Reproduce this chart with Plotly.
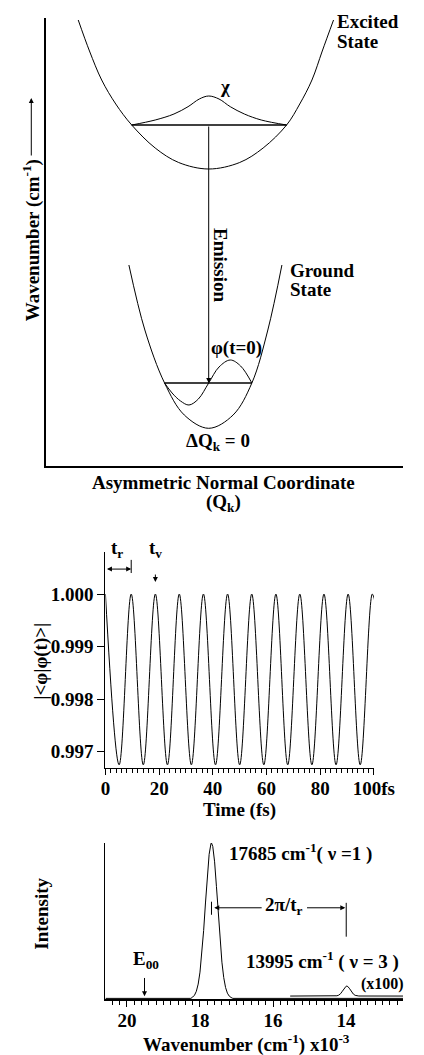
import plotly.graph_objects as go

W, H = 424, 1055

# ---------------- Top panel (schematic potential wells) ----------------
# Q: asymmetric normal coordinate (arb.), E: wavenumber (arb.)
excited_Q = [-139, -127, -114, -99, -82, -57, -32, 0, 33, 58, 83, 97, 110, 121, 133]
excited_E = [446, 415, 386, 362, 341, 318, 303.5, 297, 303.5, 318, 341, 362, 386, 415, 446]
excited_level_Q = [-82, 83]
excited_level_E = [341, 341]
chi_Q = [-82, -57, -37, -22, -10, 0, 11, 23, 38, 56, 83]
chi_E = [341, 346, 352, 359.3, 367, 370, 367, 359.3, 352, 346, 341]

ground_Q = [-85, -68, -47, -26, 0, 26, 46, 63, 78]
ground_E = [201, 136, 83, 51, 37.7, 51, 83, 136, 201]
ground_level_Q = [-47, 46]
ground_level_E = [83, 83]
phi_Q = [-47, -39, -30, -21, -11, 0, 11, 23, 34, 46]
phi_E = [83, 73, 65, 61, 67, 83, 99, 106, 100, 83]

# ---------------- Middle panel (autocorrelation) ----------------
time_fs = [0, 5.1, 9.6, 14.1, 18.6, 23.1, 27.5, 32.0, 36.5, 41.0, 45.5, 50.0,
           54.5, 59.0, 63.5, 67.9, 72.4, 76.9, 81.4, 85.9, 90.4, 94.9, 99.4, 100.4]
overlap = [1.0000, 0.99675, 1.0000, 0.99675, 1.0000, 0.99675, 1.0000, 0.99675,
           1.0000, 0.99675, 1.0000, 0.99675, 1.0000, 0.99675, 1.0000, 0.99675,
           1.0000, 0.99675, 1.0000, 0.99675, 1.0000, 0.99675, 1.0000, 0.99985]

# ---------------- Bottom panel (emission spectrum) ----------------
spec_wn = [20.59, 18.25, 18.20, 18.15, 18.10, 18.05, 18.00, 17.95, 17.90, 17.85,
           17.80, 17.75, 17.70, 17.685, 17.65, 17.60, 17.55, 17.50, 17.45, 17.40,
           17.35, 17.30, 17.25, 17.20, 17.15, 17.10, 12.44]
spec_int = [0, 0, 0.0086, 0.0208, 0.0457, 0.0919, 0.169, 0.284, 0.437, 0.614,
            0.789, 0.927, 0.996, 1.0, 0.978, 0.879, 0.721, 0.542, 0.372, 0.233,
            0.134, 0.0702, 0.0337, 0.0148, 0.0059, 0, 0]
x100_wn = [15.53, 14.35, 14.30, 14.25, 14.20, 14.15, 14.10, 14.05, 14.00, 13.98,
           13.95, 13.90, 13.85, 13.80, 13.75, 13.70, 13.65, 12.44]
x100_int = [0.015, 0.015, 0.0154, 0.0167, 0.0207, 0.0301, 0.0462, 0.0651, 0.0777, 0.079,
            0.0762, 0.0615, 0.0425, 0.0277, 0.0195, 0.0163, 0.0153, 0.015]

FONT = "Liberation Serif, Times New Roman, Times, DejaVu Serif, serif"
BLACK = "black"
FS = 19


def px(x):
    return x / W


def py(y):
    return 1 - y / H


fig = go.Figure()
line = dict(color=BLACK, width=1)

# top panel traces
fig.add_trace(go.Scatter(x=excited_Q, y=excited_E, mode="lines", line=dict(line, shape="spline"), xaxis="x", yaxis="y"))
fig.add_trace(go.Scatter(x=excited_level_Q, y=excited_level_E, mode="lines", line=dict(color=BLACK, width=1.3), xaxis="x", yaxis="y"))
fig.add_trace(go.Scatter(x=chi_Q, y=chi_E, mode="lines", line=dict(line, shape="spline"), xaxis="x", yaxis="y"))
fig.add_trace(go.Scatter(x=ground_Q, y=ground_E, mode="lines", line=dict(line, shape="spline"), xaxis="x", yaxis="y"))
fig.add_trace(go.Scatter(x=ground_level_Q, y=ground_level_E, mode="lines", line=dict(color=BLACK, width=1.3), xaxis="x", yaxis="y"))
fig.add_trace(go.Scatter(x=phi_Q, y=phi_E, mode="lines", line=dict(line, shape="spline"), xaxis="x", yaxis="y"))

# middle
fig.add_trace(go.Scatter(x=time_fs, y=overlap, mode="lines", line=dict(line, shape="spline"), xaxis="x2", yaxis="y2"))

# bottom
fig.add_trace(go.Scatter(x=spec_wn, y=spec_int, mode="lines", line=line, xaxis="x3", yaxis="y3"))
fig.add_trace(go.Scatter(x=x100_wn, y=x100_int, mode="lines", line=line, xaxis="x3", yaxis="y3"))

tickfont = dict(family=FONT, size=FS, color=BLACK, weight="bold")

fig.update_layout(
    height=H, autosize=True,
    margin=dict(l=0, r=0, t=0, b=0, pad=0),
    paper_bgcolor="white", plot_bgcolor="white",
    showlegend=False,
    font=dict(family=FONT, size=FS, color=BLACK, weight="bold"),
    xaxis=dict(domain=[px(44), 1], range=[-173, 207], showline=True, linecolor=BLACK, linewidth=1.5,
               showticklabels=False, ticks="", showgrid=False, zeroline=False),
    yaxis=dict(domain=[py(466), py(18)], range=[0, 448], showline=True, linecolor=BLACK, linewidth=1.5,
               showticklabels=False, ticks="", showgrid=False, zeroline=False),
    xaxis2=dict(domain=[px(107), px(393)], range=[0, 100], anchor="y2", showline=True, linecolor=BLACK,
                linewidth=1.2, showgrid=False, zeroline=False, ticks="outside", ticklen=6, tickcolor=BLACK,
                tickmode="linear", tick0=0, dtick=20, labelalias={"100": "100fs"}, tickfont=tickfont,
                ticklabelstandoff=-3,
                minor=dict(ticks="outside", ticklen=4, tick0=0, dtick=2, tickcolor=BLACK, showgrid=False)),
    yaxis2=dict(domain=[py(768), py(552)], range=[0.99669, 1.0008], anchor="x2", showline=True, linecolor=BLACK,
                linewidth=1.2, showgrid=False, zeroline=False, ticks="outside", ticklen=7, tickcolor=BLACK,
                tickmode="linear", tick0=0.997, dtick=0.001, tickformat=".3f", tickfont=tickfont),
    xaxis3=dict(domain=[px(107), 1], range=[20.59, 12.44], anchor="y3", showline=True, linecolor=BLACK,
                linewidth=1.5, showgrid=False, zeroline=False, ticks="outside", ticklen=6, tickcolor=BLACK,
                tickmode="linear", tick0=20, dtick=2, tickfont=tickfont, ticklabelstandoff=-3,
                minor=dict(ticks="outside", ticklen=4, tick0=20, dtick=0.2, tickcolor=BLACK, showgrid=False)),
    yaxis3=dict(domain=[py(999), py(843)], range=[-0.004, 1.0], anchor="x3", showline=True, linecolor=BLACK,
                linewidth=1.2, showgrid=False, zeroline=False, showticklabels=False, ticks=""),
)

anns = []


def text(t, x, y, size=FS, xanchor="center", angle=0):
    anns.append(dict(text=t, x=px(x), y=py(y), xref="paper", yref="paper", showarrow=False,
                     xanchor=xanchor, yanchor="middle", textangle=angle,
                     font=dict(family=FONT, size=size, color=BLACK, weight="bold")))


def arrow(x, y, ax, ay, xref, yref, side="end"):
    anns.append(dict(text="", x=x, y=y, ax=ax, ay=ay, xref=xref, yref=yref, axref=xref, ayref=yref,
                     showarrow=True, arrowhead=2, arrowsize=1, arrowwidth=1, arrowcolor=BLACK,
                     arrowside=side, standoff=0, startstandoff=0))


# top panel texts
text("Excited", 352, 22, xanchor="left")
text("State", 352, 42, xanchor="left")
text("Ground", 301, 270, xanchor="left")
text("State", 301, 290, xanchor="left")
text("χ", 234, 87)
text("Emission", 230, 265, angle=90)
text("φ(t=0)", 247, 348)
text("ΔQ<sub>k</sub> = 0", 227, 442)
text("Asymmetric Normal Coordinate", 233, 483)
text("(Q<sub>k</sub>)", 233, 503)
text("Wavenumber (cm<sup>-1</sup>)", 28, 240, angle=-90)
# axis direction arrow (paper)
anns.append(dict(text="", x=px(28), y=py(98), xref="paper", yref="paper", ax=0, ay=59,
                 showarrow=True, arrowhead=2, arrowsize=1, arrowwidth=1, arrowcolor=BLACK, standoff=0))
# emission arrow
arrow(0, 83, 0, 341, "x", "y")

# middle panel texts
text("|&lt;φ|φ(t)&gt;|", 38, 661, angle=-90)
text("Time (fs)", 250, 810)
text("t<sub>r</sub>", 119, 549)
text("t<sub>v</sub>", 160, 549)
arrow(9.6, 1.000475, 0, 1.000475, "x2", "y2", side="end+start")
arrow(18.6, 1.00023, 18.6, 1.0004, "x2", "y2")

# bottom panel texts
text("17685 cm<sup>-1</sup>( ν =1 )", 237, 852, xanchor="left")
text("2π/t<sub>r</sub>", 297, 906)
text("13995 cm<sup>-1</sup> ( ν = 3 )", 422, 960, xanchor="right")
text("(x100)", 377, 984, size=16, xanchor="left")
text("E<sub>00</sub>", 150, 960)
text("Intensity", 38, 914, angle=-90)
text("Wavenumber (cm<sup>-1</sup>) x10<sup>-3</sup>", 257, 1043)
arrow(17.61, 0.583, 16.27, 0.583, "x3", "y3")
arrow(14.02, 0.583, 15.11, 0.583, "x3", "y3")
arrow(19.52, 0.013, 19.52, 0.141, "x3", "y3")

fig.update_layout(annotations=anns)

shapes = [
    dict(type="line", xref="x2", yref="y2", x0=9.6, x1=9.6, y0=1.0004, y1=1.00065, line=dict(color=BLACK, width=1)),
    dict(type="line", xref="x3", yref="y3", x0=17.685, x1=17.685, y0=0.538, y1=0.622, line=dict(color=BLACK, width=1)),
    dict(type="line", xref="x3", yref="y3", x0=13.995, x1=13.995, y0=0.397, y1=0.615, line=dict(color=BLACK, width=1)),
]
fig.update_layout(shapes=shapes)

fig.write_html("out.html")
